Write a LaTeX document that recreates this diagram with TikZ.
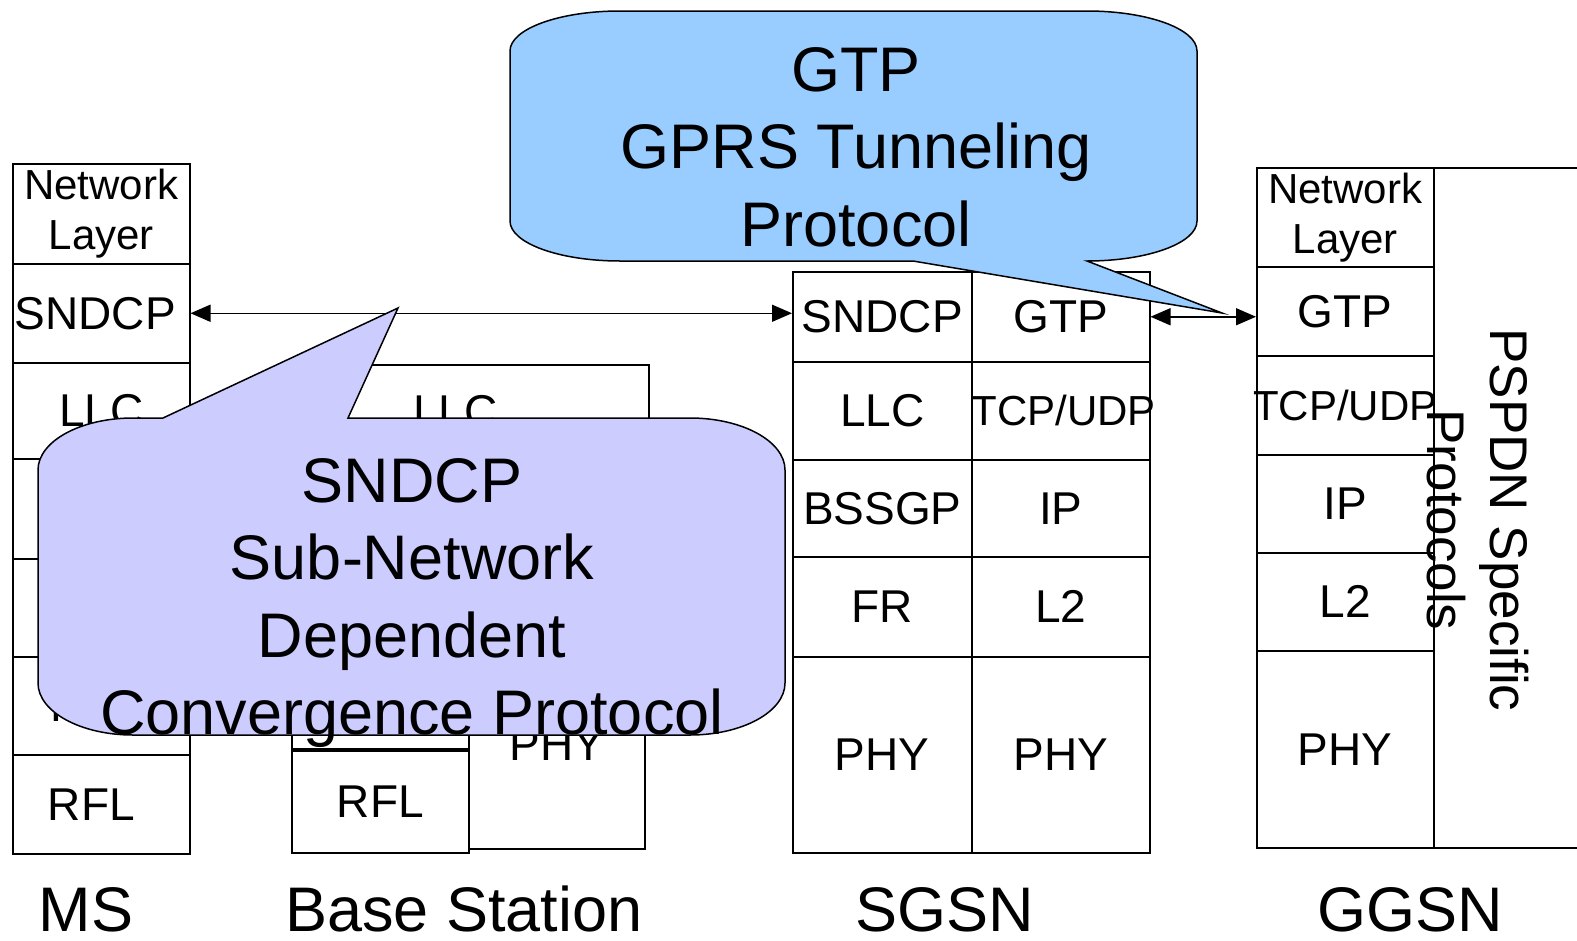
\documentclass[tikz,border=0pt]{standalone}
\usepackage{fontspec}
\setmainfont{Liberation Sans}
\usetikzlibrary{arrows.meta}
\definecolor{sndcpfill}{RGB}{204,204,255}
\definecolor{gtpfill}{RGB}{153,204,255}

\begin{document}
\begin{tikzpicture}[x=1pt,y=-1pt,
		layer/.style={draw, line width=1.5pt, inner sep=0pt, anchor=north west,
			align=center, font=\fontsize{46}{55}\selectfont},
		msbox/.style={layer, minimum width=177pt},
		bsbox/.style={layer, minimum width=177pt},
		sgbox/.style={layer, minimum width=179pt},
		ggbox/.style={layer, minimum width=177pt},
		small/.style={font=\fontsize{42}{50}\selectfont},
		link/.style={line width=1.5pt,
			{Triangle[length=20pt,width=17pt]}-{Triangle[length=20pt,width=17pt]}},
		callout/.style={draw, line width=1.5pt},
		bubbletext/.style={align=center, font=\fontsize{63}{77.5}\selectfont},
		station/.style={anchor=base, inner sep=0pt, font=\fontsize{63}{75}\selectfont}]
	\useasboundingbox (0,0) rectangle (1577,940);

	% MS
	\node[msbox, small, minimum height=100pt] (msnet) at (12,163) {Network\\ Layer};
	\node[msbox, minimum height=99pt] (mssndcp) at (12,263) {\hspace*{-12pt}SNDCP};
	\node[msbox, minimum height=96pt] (msllc) at (12,362) {LLC};
	\node[msbox, minimum height=100pt] (msrlc) at (12,458) {};
	\node[msbox, minimum height=98pt] (msmac) at (12,558) {};
	\node[msbox, minimum height=98pt] (mspll) at (12,656) {\hspace*{-20pt}PLL};
	\node[msbox, minimum height=99pt] (msrfl) at (12,754) {\hspace*{-20pt}RFL};

	% Base Station
	\node[layer, minimum width=357pt, minimum height=94pt] (bsllc) at (291,364) {\hspace*{-30pt}LLC};
	\node[bsbox, minimum height=100pt] (bsrlc) at (291,458) {};
	\node[bsbox, minimum height=98pt] (bsmac) at (291,558) {};
	\node[bsbox, minimum height=92pt] (bspll) at (291,656) {};
	\node[bsbox, minimum height=102pt] (bsrfl) at (291,750) {RFL};
	\node[bsbox, minimum width=176pt, minimum height=98pt] (bsbssgp) at (468,458) {};
	\node[bsbox, minimum width=176pt, minimum height=84pt] (bsfr) at (468,556) {};
	\node[bsbox, minimum width=176pt, minimum height=208pt] (bsphy) at (468,640) {PHY};

	% SGSN
	\node[sgbox, minimum height=90pt] (sgsndcp) at (792,271) {SNDCP};
	\node[sgbox, minimum height=98pt] (sgllc) at (792,361) {LLC};
	\node[sgbox, minimum height=97pt] (sgbssgp) at (792,459) {BSSGP};
	\node[sgbox, minimum height=100pt] (sgfr) at (792,556) {FR};
	\node[sgbox, minimum height=196pt] (sgphya) at (792,656) {PHY};
	\node[sgbox, minimum width=178pt, minimum height=90pt] (sggtp) at (971,271) {GTP};
	\node[sgbox, small, minimum width=178pt, minimum height=98pt] (sgtcp) at (971,361) {\makebox[0pt]{\hspace*{6pt}TCP/UDP}};
	\node[sgbox, minimum width=178pt, minimum height=97pt] (sgip) at (971,459) {IP};
	\node[sgbox, minimum width=178pt, minimum height=100pt] (sgl2) at (971,556) {L2};
	\node[sgbox, minimum width=178pt, minimum height=196pt] (sgphyb) at (971,656) {PHY};

	% GGSN
	\node[ggbox, small, minimum height=99pt] (ggnet) at (1256,167) {Network\\ Layer};
	\node[ggbox, minimum height=89pt] (gggtp) at (1256,266) {GTP};
	\node[ggbox, small, minimum height=99pt] (ggtcp) at (1256,355) {\makebox[0pt]{TCP/UDP}};
	\node[ggbox, minimum height=98pt] (ggip) at (1256,454) {IP};
	\node[ggbox, minimum height=98pt] (ggl2) at (1256,552) {L2};
	\node[ggbox, minimum height=197pt] (ggphy) at (1256,650) {PHY};
	\node[layer, minimum width=170pt, minimum height=680pt] (pspdn) at (1433,167) {};
	\node[rotate=-90, align=center, font=\fontsize{53}{63}\selectfont] (pspdntext)
		at (1478,520) {PSPDN Specific\\Protocols};

	% peer links
	\draw[link] (mssndcp.east) -- (mssndcp.east -| sgsndcp.west);
	\draw[link] (sggtp.east) -- (sggtp.east -| gggtp.west);

	% callouts
	\draw[callout, fill=sndcpfill] (163,418) -- (398,308) -- (348,418) -- (690,418)
		.. controls (742.4,418) and (785,441.3) .. (785,470) -- (785,683)
		.. controls (785,711.7) and (742.4,735) .. (690,735) -- (133,735)
		.. controls (80.6,735) and (38,711.7) .. (38,683) -- (38,470)
		.. controls (38,441.3) and (80.6,418) .. (133,418) -- cycle;
	\node[bubbletext] (sndcptext) at (412,603) {SNDCP\\Sub-Network\\Dependent\\Convergence Protocol};

	\draw[callout, fill=gtpfill] (913,261) -- (1222,313) -- (1087,261)
		.. controls (1147.7,261) and (1197,243.1) .. (1197,221) -- (1197,51)
		.. controls (1197,28.9) and (1147.7,11) .. (1087,11) -- (620,11)
		.. controls (559.3,11) and (510,28.9) .. (510,51) -- (510,221)
		.. controls (510,243.1) and (559.3,261) .. (620,261) -- cycle;
	\node[bubbletext] (gtptext) at (856,147) {GTP\\GPRS Tunneling\\Protocol};

	% stations
	\node[station] (mslabel) at (86,931) {MS};
	\node[station] (bslabel) at (464,931) {Base Station};
	\node[station] (sglabel) at (945,931) {SGSN};
	\node[station] (gglabel) at (1410,931) {GGSN};
\end{tikzpicture}
\end{document}
